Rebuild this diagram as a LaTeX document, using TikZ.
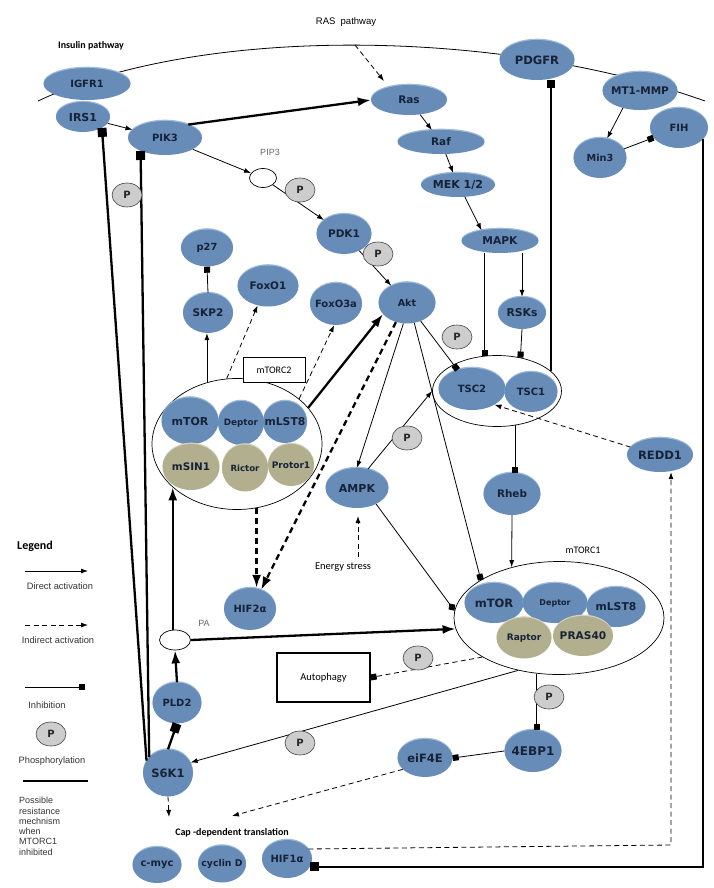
\documentclass[tikz,border=0pt]{standalone}
\usepackage{fontspec}
\setmainfont{Liberation Sans}
\newfontfamily\nodefont{DejaVu Sans}
\newfontfamily\calib{Carlito}
\usetikzlibrary{shapes.geometric,arrows.meta,calc}
\definecolor{pblue}{RGB}{104,140,184}
\definecolor{prim}{RGB}{160,188,220}
\definecolor{ptan}{RGB}{178,175,143}
\definecolor{trim}{RGB}{212,210,188}
\definecolor{ptxt}{RGB}{22,34,56}
\definecolor{pgray}{RGB}{205,205,205}
\newcommand\fsz[1]{\fontsize{#1}{#1}\selectfont}
\begin{document}
\begin{tikzpicture}[x=1pt,y=-1pt,
  prot/.style 2 args={ellipse, fill=pblue, inner sep=0pt, minimum width=#1, minimum height=#2,
     preaction={fill=prim, transform canvas={yshift=1.3pt}}},
  tprot/.style 2 args={ellipse, fill=ptan, inner sep=0pt, minimum width=#1, minimum height=#2,
     preaction={fill=trim, transform canvas={yshift=1.3pt}}},
  ptx/.style={font=\nodefont\bfseries, text=ptxt, inner sep=0pt},
  lab/.style={label={[ptx]center:#1}},
  pn/.style={ellipse, draw=black!75, line width=0.6pt, fill=pgray, minimum width=30pt, minimum height=24pt,
     inner sep=0pt, font=\nodefont\bfseries\fsz{10}, text=black!85},
  wn/.style 2 args={ellipse, draw=black, line width=0.7pt, fill=white, minimum width=#1, minimum height=#2, inner sep=0pt},
  cplx/.style 2 args={ellipse, draw=black, line width=0.7pt, minimum width=#1, minimum height=#2, inner sep=0pt},
  ln/.style={line width=0.8pt, draw=black},
  arr/.style={ln, -{Latex[length=7pt,width=5pt]}},
  darr/.style={arr, dash pattern=on 5pt off 3.5pt},
  inh/.style={ln, -{Square[length=6pt,width=6pt]}},
  dinh/.style={inh, dash pattern=on 5pt off 3.5pt},
  diam/.style={ln, -{Diamond[length=9pt,width=8pt]}},
  medinh/.style={line width=1.4pt, -{Square[length=8pt,width=8pt]}},
  tk/.style={line width=2.3pt},
  tkarr/.style={tk, -{Latex[length=13pt,width=9pt]}},
  tkinh/.style={tk, -{Square[length=9pt,width=9pt]}},
  tkdarr/.style={tk, dash pattern=on 6pt off 4pt, -{Latex[length=13pt,width=9pt]}},
  legtxt/.style={font=\fsz{9.3}, text=black!80, inner sep=0pt},
  cal/.style={font=\calib\fsz{10}, inner sep=0pt},
  gtx/.style={font=\fsz{9}, text=black!60, inner sep=0pt}
]
\useasboundingbox (0,0) rectangle (714,888);

% membrane
\draw[line width=0.8pt] (38,101) .. controls (200,25) and (500,28) .. (705,101);

% texts
\node[font=\calib\bfseries\fsz{10}, inner sep=0pt] (insulin) at (91,46) {Insulin pathway};
\node[font=\fsz{9.5}, inner sep=0pt] (raslab) at (346,22) {RAS\ \ pathway};
\node[gtx] (pip3lab) at (270,152) {PIP3};
\node[gtx] (palab) at (204,623) {PA};
\node[cal] (mtorc1lab) at (583,550) {mTORC1};
\node[font=\calib\fsz{10.5}, inner sep=0pt] (energy) at (343,567) {Energy stress};
\node[font=\calib\bfseries\fsz{10}, inner sep=0pt] (cap) at (232,833) {Cap -dependent translation};

% complexes
\node[cplx={170}{131}] (mtorc2) at (237,444) {};
\node[cplx={129}{71}] (tsc) at (497,391) {};
\node[cplx={210}{113}] (mtorc1) at (559,618) {};

% proteins
\node[prot={87}{32}, lab={\fsz{10}IGFR1}] (igfr1) at (87,84) {};
\node[prot={54}{30}, lab={\fsz{11}IRS1}] (irs1) at (83,117) {};
\node[prot={74}{34}, lab={\fsz{10}PIK3}] (pik3) at (165,138) {};
\node[prot={76}{30}, lab={\fsz{10.5}Ras}] (ras) at (409,100) {};
\node[prot={87}{24}, lab={\fsz{10.5}Raf}] (raf) at (441,142) {};
\node[prot={74}{24}, lab={\fsz{11}MEK 1/2}] (mek) at (458,185) {};
\node[prot={75}{40}, lab={\fsz{11.5}PDGFR}] (pdgfr) at (537,60) {};
\node[prot={75}{38}, lab={\fsz{10.5}MT1-MMP}] (mt1) at (640,91) {};
\node[prot={58}{40}, lab={\fsz{10}FIH}] (fih) at (679,128) {};
\node[prot={53}{40}, lab={\fsz{9.7}Min3}] (min3) at (600,158) {};
\node[prot={55}{40}, lab={\fsz{10.5}PDK1}] (pdk1) at (344,234) {};
\node[prot={52}{37}, lab={\fsz{9.8}p27}] (p27) at (207,248) {};
\node[prot={50}{40}, lab={\fsz{10.5}SKP2}] (skp2) at (208,313) {};
\node[prot={61}{41}, lab={\fsz{10.4}FoxO1}] (foxo1) at (268,286) {};
\node[prot={52}{42}, lab={\fsz{10}FoxO3a}] (foxo3a) at (336,304) {};
\node[prot={57}{41}, lab={\fsz{9.6}Akt}] (akt) at (407,303) {};
\node[prot={77}{24}, lab={\fsz{10.7}MAPK}] (mapk) at (500,241) {};
\node[prot={48}{32}, lab={\fsz{10.8}RSKs}] (rsks) at (522,313) {};
\node[prot={67}{42}, lab={\fsz{10}TSC2}] (tsc2) at (472,389) {};
\node[prot={53}{40}, lab={\fsz{10}TSC1}] (tsc1) at (531,392) {};
\node[prot={66}{34}, lab={\fsz{11.5}REDD1}] (redd1) at (660,455) {};
\node[prot={63}{40}, lab={\fsz{11}AMPK}] (ampk) at (357,488) {};
\node[prot={57}{42}, lab={\fsz{10.4}Rheb}] (rheb) at (512,494) {};
\node[prot={52}{42}, lab={\fsz{10}HIF2α}] (hif2a) at (250,609) {};
% mTORC2 members
\node[prot={57}{47}, lab={\fsz{11}mTOR}] (mtorb) at (190,421) {};
\node[prot={46}{44}, lab={\fsz{8.8}Deptor}] (deptorb) at (241,423) {};
\node[prot={44}{42}, lab={\fsz{10.8}mLST8}] (mlstb) at (285,422) {};
\node[tprot={57}{46}, lab={\fsz{10.4}mSIN1}] (msin1) at (191,467) {};
\node[tprot={46}{47}, lab={\fsz{8.6}Rictor}] (rictor) at (245,468) {};
\node[tprot={46}{42}, lab={\fsz{9}Protor1}] (protor1) at (291,465) {};
% mTORC1 members
\node[prot={59}{40}, lab={\fsz{11.5}mTOR}] (mtora) at (494,603) {};
\node[prot={65}{40}, lab={\fsz{8}Deptor}] (deptora) at (555,603) {};
\node[prot={59}{40}, lab={\fsz{10.8}mLST8}] (mlsta) at (616,607) {};
\node[tprot={55}{41}, lab={\fsz{9}Raptor}] (raptor) at (524,638) {};
\node[tprot={60}{40}, lab={\fsz{10.6}PRAS40}] (pras40) at (583,636) {};
% lower
\node[prot={49}{41}, lab={\fsz{10}PLD2}] (pld2) at (177,703) {};
\node[prot={50}{47}, lab={\fsz{11.5}S6K1}] (s6k1) at (168,773) {};
\node[prot={55}{38}, lab={\fsz{11.5}eiF4E}] (eif4e) at (425,758) {};
\node[prot={57}{42}, lab={\fsz{12}4EBP1}] (ebp) at (533,751) {};
\node[prot={49}{36}, lab={\fsz{10}c-myc}] (cmyc) at (157,865) {};
\node[prot={48}{37}, lab={\fsz{9.3}cyclin D}] (cycd) at (222,864) {};
\node[prot={50}{38}, lab={\fsz{10}HIF1α}] (hif1a) at (287,859) {};

% small white
\node[wn={27}{19}] (pip3) at (263,178) {};
\node[wn={31}{20}] (pa) at (175,640) {};

% boxes
\node[draw, line width=1pt, fill=white, minimum width=62pt, minimum height=25pt, cal] (c2box) at (274,370) {mTORC2};
\node[draw, line width=1.3pt, fill=white, minimum width=93pt, minimum height=49pt, font=\calib\fsz{10.5}, inner sep=0pt] (autoph) at (323.5,677.5) {Autophagy};

% coordinates
\coordinate (rs1) at (355,45);
\coordinate (rs2) at (384,81);
\coordinate (hc) at (671,845);
\coordinate (estart) at (358,557);
\coordinate (etip) at (358,516);
\coordinate (captip) at (232,816);
\coordinate (captip2) at (169,817);

% connectors
\draw[arr] (irs1) -- (pik3);
\draw[tkarr] (pik3.30) -- (ras.west);
\draw[arr] (pik3) -- (pip3);
\draw[arr] (pip3) -- (pdk1);
\draw[arr] (pdk1) -- (akt);
\draw[arr] (ras) -- (raf);
\draw[arr] (raf) -- (mek);
\draw[arr] (mek.-60) -- (mapk.150);
\draw[darr] (rs1) -- (rs2);
\draw[arr] (mt1.225) -- (min3.70);
\draw[inh] (min3) -- (fih);
\draw[medinh] (tsc.20) -- (tsc.20 |- pdgfr.south);
\draw[tkinh] (fih.-25) |- (hif1a.-19);
\draw[darr] (hif1a.25) -- (hc) -- (hc |- redd1.south);
\draw[darr] (redd1.165) -- (tsc2.-35);
\draw[arr] (mapk.south -| rsks.north) -- (rsks.north);
\draw[inh] (mapk.south -| tsc.109) -- (tsc.109);
\draw[inh] (rsks.south) -- (tsc.55);
\draw[inh] (akt) -- (tsc2);
\draw[arr] (akt.260) -- (ampk.north);
\draw[inh] (akt.290) -- (mtorc1.154);
\draw[arr] (ampk.60) -- (tsc.west);
\draw[diam] (ampk.-40) -- (mtorc1.176);
\draw[tkarr] (mtorc2.27) -- (akt.205);
\draw[tkdarr] (akt.240) -- (hif2a.60);
\draw[tkdarr] (mtorc2.-73) -- (mtorc2.-73 |- hif2a.north);
\draw[darr] (mtorc2.99) -- (foxo1.242);
\draw[darr] (mtorc2.36) -- (foxo3a.265);
\draw[arr] (mtorc2.116) -- (mtorc2.116 |- skp2.south);
\draw[inh] (skp2.north) -- (p27.south);
\draw[inh] (tsc.-62) -- (tsc.-62 |- rheb.north);
\draw[arr] (rheb.south) -- (mtorc1.133);
\draw[darr] (estart) -- (etip);
\draw[tkinh] (s6k1.150) -- (irs1.-30);
\draw[tkinh] (s6k1.140) -- (pik3.208);
\draw[tkinh] (s6k1.north) -- (pld2.south);
\draw[tkarr] (pld2.north) -- (pa.south);
\draw[tkarr] (pa.north -| mtorc2.214) -- (mtorc2.214);
\draw[tkarr] (pa.east) -- (mtorc1.186);
\draw[arr] (mtorc1.232) -- (s6k1.25);
\draw[dinh] (mtorc1.207) -- (autoph.east);
\draw[inh] (mtorc1.248) -- (mtorc1.248 |- ebp.north);
\draw[inh] (ebp.west) -- (eif4e.east);
\draw[darr] (eif4e.207) -- (captip);
\draw[darr] (s6k1.south) -- (captip2);

% phosphorylation marks
\node[pn] (p1) at (127,195) {P};
\node[pn] (p2) at (300,190) {P};
\node[pn] (p3) at (378,254) {P};
\node[pn] (p4) at (457,337) {P};
\node[pn] (p5) at (407,438) {P};
\node[pn] (p6) at (418,658) {P};
\node[pn] (p7) at (300,743) {P};
\node[pn] (p8) at (549,697) {P};

% legend
\node[font=\calib\bfseries\fsz{12}, inner sep=0pt] (legend) at (35,546) {Legend};
\coordinate (l1a) at (25,571); \coordinate (l1b) at (88,571);
\draw[arr] (l1a) -- (l1b);
\node[legtxt] (t1) at (60,586) {Direct activation};
\coordinate (l2a) at (25,625); \coordinate (l2b) at (88,625);
\draw[darr] (l2a) -- (l2b);
\node[legtxt] (t2) at (58,640) {Indirect activation};
\coordinate (l3a) at (25,687); \coordinate (l3b) at (85,687);
\draw[inh] (l3a) -- (l3b);
\node[legtxt] (t3) at (47,705) {Inhibition};
\node[pn] (pleg) at (51,734) {P};
\node[legtxt] (t4) at (52,761) {Phosphorylation};
\coordinate (l4a) at (23,781); \coordinate (l4b) at (88,781);
\draw[tk] (l4a) -- (l4b);
\node[font=\fsz{9}, text=black!80, inner sep=0pt, align=left, anchor=north west,
  execute at begin node={\baselineskip=10.3pt}] (t5) at (19,797)
  {Possible\\resistance\\mechnism\\when\\MTORC1\\inhibited};
\end{tikzpicture}
\end{document}
